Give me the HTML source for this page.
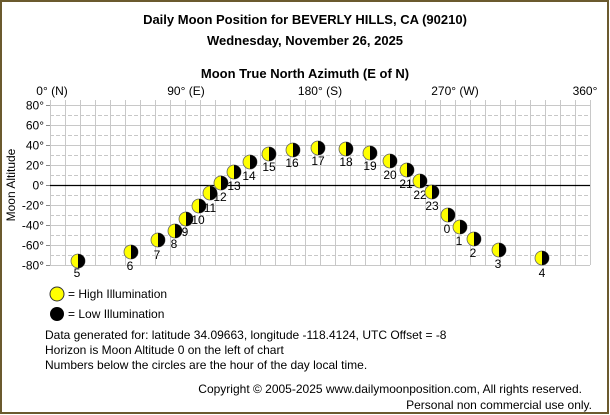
<!DOCTYPE html>
<html><head><meta charset="utf-8"><style>
html,body{margin:0;padding:0;background:#fff}
svg{display:block}
text{font-family:"Liberation Sans",Arial,sans-serif;fill:#000}
</style></head><body>
<svg width="610" height="415" xmlns="http://www.w3.org/2000/svg">
<rect x="1" y="1" width="607" height="412" fill="#fff" stroke="#6b5a2e" stroke-width="2"/>
<text x="305" y="24" font-size="13" font-weight="bold" text-anchor="middle">Daily Moon Position for BEVERLY HILLS, CA (90210)</text>
<text x="305" y="45" font-size="13" font-weight="bold" text-anchor="middle">Wednesday, November 26, 2025</text>
<text x="305" y="78" font-size="13" font-weight="bold" text-anchor="middle">Moon True North Azimuth (E of N)</text>
<g font-size="12" text-anchor="middle">
<text x="52" y="95">0° (N)</text><text x="186" y="95">90° (E)</text><text x="320" y="95">180° (S)</text><text x="455" y="95">270° (W)</text><text x="585" y="95">360°</text>
</g>
<g id="grid" stroke="#c8c8c8" stroke-width="1">
<g id="v"></g>
</g>
<script>
(function(){
var ns="http://www.w3.org/2000/svg",svg=document.currentScript.parentNode;
function el(t,a,p){var e=document.createElementNS(ns,t);for(var k in a)e.setAttribute(k,a[k]);(p||svg).appendChild(e);return e;}
var g=svg.querySelector('#grid');
for(var i=0;i<=36;i++){var x=50.5+i*15;el('line',{x1:x,y1:100,x2:x,y2:265},g);}
for(var d=80;d>=-80;d-=10){var y=185.5-d;var a={x1:50,y1:y,x2:590,y2:y};if(d%20!==0)a['stroke-dasharray']='4,2';el('line',a,g);
 if(d%20===0){el('line',{x1:46,y1:y,x2:50,y2:y,stroke:'#888'});var t=el('text',{x:44,y:y+4,'font-size':12,'text-anchor':'end'});t.textContent=d+'°';}}
el('line',{x1:50,y1:185.5,x2:590,y2:185.5,stroke:'#000','stroke-width':1.3});
var m=[[5,78,261,77,272],[6,131,252,130,265],[7,158,240,157,254],[8,175,231,174,243],[9,186,219,185,231],[10,199,206,198,219],[11,210,193,210,207],[12,221,183,220,196],[13,234,172,234,185],[14,250,162,249,175],[15,269,154,269,166],[16,293,150,292,162],[17,318,148,318,160],[18,346,149,346,161],[19,370,153,370,165],[20,390,161,390,174],[21,407,170,406,183],[22,420,181,420,194],[23,432,192,432,205],[0,448,215,447,228],[1,460,227,459,240],[2,474,239,473,252],[3,499,250,498,263],[4,542,258,542,272]];
function moon(cx,cy,r){el('circle',{cx:cx,cy:cy,r:r,fill:'#ffff00',stroke:'#666','stroke-width':0.8});el('path',{d:'M'+cx+' '+(cy-r)+' A'+r+' '+r+' 0 0 1 '+cx+' '+(cy+r)+' Z',fill:'#000'});}
m.forEach(function(p){moon(p[1],p[2],7);var t=el('text',{x:p[3],y:p[4]+5,'font-size':12,'text-anchor':'middle'});t.textContent=p[0];});
el('circle',{cx:57,cy:294,r:7,fill:'#ffff00',stroke:'#333','stroke-width':1});
el('circle',{cx:57,cy:314,r:7,fill:'#000'});
})();
</script>
<text x="15" y="185" font-size="12" text-anchor="middle" transform="rotate(-90 15 185)">Moon Altitude</text>
<g font-size="12">
<text x="68" y="298">= High Illumination</text>
<text x="68" y="318">= Low Illumination</text>
<text x="45" y="339">Data generated for: latitude 34.09663, longitude -118.4124, UTC Offset = -8</text>
<text x="45" y="354">Horizon is Moon Altitude 0 on the left of chart</text>
<text x="45" y="369">Numbers below the circles are the hour of the day local time.</text>
<text x="582" y="393" text-anchor="end">Copyright © 2005-2025 www.dailymoonposition.com, All rights reserved.</text>
<text x="592" y="409" text-anchor="end">Personal non commercial use only.</text>
</g>
</svg>
</body></html>
